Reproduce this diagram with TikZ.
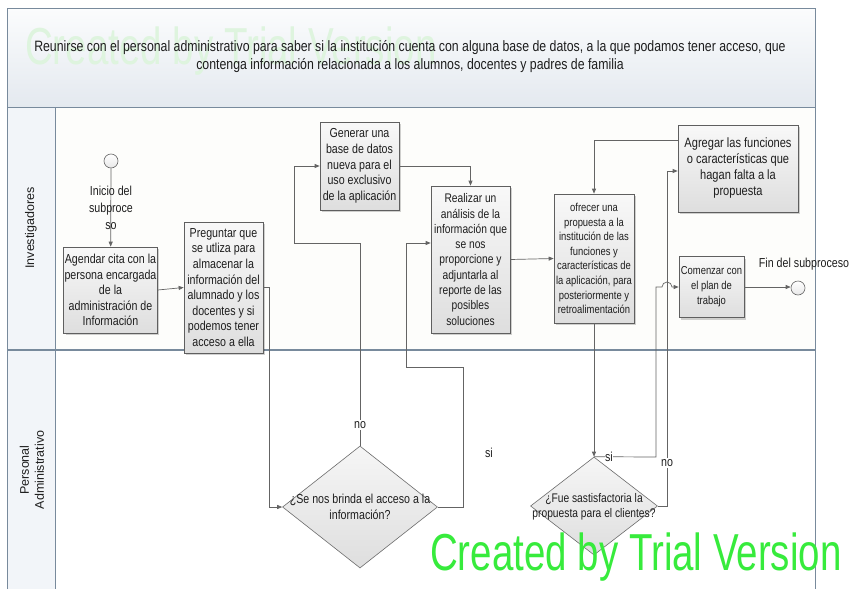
\documentclass[tikz,border=0pt]{standalone}
\usepackage{fontspec}
\setmainfont{Liberation Sans}
\newfontfamily\nar[FakeStretch=0.82]{Liberation Sans}
\usetikzlibrary{arrows.meta,shapes.geometric,shadows}
\definecolor{boxtop}{RGB}{248,248,248}
\definecolor{boxbot}{RGB}{222,222,222}
\definecolor{diatop}{RGB}{246,246,246}
\definecolor{diabot}{RGB}{222,222,222}
\definecolor{boxborder}{RGB}{95,95,95}
\definecolor{linec}{RGB}{100,100,100}
\definecolor{lanec}{RGB}{120,138,156}
\definecolor{hdrtop}{RGB}{251,252,253}
\definecolor{hdrbot}{RGB}{228,233,239}
\definecolor{colfill}{RGB}{242,245,249}
\definecolor{lanefill}{RGB}{253,253,251}
\definecolor{wmgreen}{RGB}{55,235,60}
\definecolor{wmpale}{RGB}{222,244,222}
\definecolor{txt}{RGB}{30,30,30}
\begin{document}
\begin{tikzpicture}[x=1pt,y=-1pt,
  txtfont/.style={font=\nar\fontsize{13}{15.6}\selectfont, text=txt},
  box/.style={draw=boxborder, line width=0.7pt, top color=boxtop, bottom color=boxbot,
    drop shadow={shadow xshift=2pt,shadow yshift=-2pt,fill=black,opacity=0.18},
    inner sep=1pt, align=center, txtfont},
  dia/.style={diamond, draw=gray!85!black, line width=0.6pt, top color=diatop, bottom color=diabot, inner sep=0pt},
  evt/.style={circle, draw=gray!80!black, line width=0.6pt, top color=white, bottom color=gray!18, minimum size=14pt, inner sep=0pt},
  conn/.style={draw=linec, line width=0.7pt, -{Triangle[length=5pt,width=4pt]}},
  lbl/.style={txtfont, inner sep=1pt},
  lanelbl/.style={font=\fontsize{12.5}{15}\selectfont, text=txt, rotate=90, align=center}
]
\useasboundingbox (0,0) rectangle (850,589);
\fill[white] (0,0) rectangle (850,589);
% header
\shade[top color=hdrtop, bottom color=hdrbot] (7,8) rectangle (815,107);
\draw[lanec, line width=0.8pt] (7,8) rectangle (815,107);
\node[anchor=base west, inner sep=0pt, text=wmpale] (wmh) at (25,64)
 {\scalebox{0.74}[1]{\fontsize{52}{52}\selectfont Created by Trial Version}};
\node[txtfont, font=\nar\fontsize{15}{18}\selectfont, align=center] (hdr) at (410,57)
 {Reunirse con el personal administrativo para saber si la institución cuenta con alguna base de datos, a la que podamos tener acceso, que\\contenga información relacionada a los alumnos, docentes y padres de familia};
% pool and lanes
\fill[lanefill] (55,107) rectangle (815,350);
\fill[colfill] (7,107) rectangle (55,589);
\draw[lanec, line width=0.8pt] (7,589) -- (7,107) -- (815,107) -- (815,589);
\draw[lanec, line width=0.8pt] (55,107) -- (55,589);
\draw[lanec, line width=1.4pt] (7,350) -- (815,350);
\node[lanelbl] (l1) at (31,228) {Investigadores};
\node[lanelbl] (l2) at (32,470) {Personal\\Administrativo};

% events
\node[evt] (start) at (111,161) {};
\node[evt] (endc) at (798,288) {};
\node[lbl] (endl) at (804,264) {Fin del subproceso};

% tasks
\node[box, minimum width=93pt, minimum height=86pt] (agendar) at (110.5,290)
 {Agendar cita con la\\persona encargada\\de la\\administración de\\Información};
\node[box, minimum width=79pt, minimum height=131pt] (preguntar) at (223.5,287.5)
 {Preguntar que\\se utliza para\\almacenar la\\información del\\alumnado y los\\docentes y si\\podemos tener\\acceso a ella};
\node[box, minimum width=79pt, minimum height=88pt] (generar) at (359.5,166)
 {Generar una\\base de datos\\nueva para el\\uso exclusivo\\de la aplicación};
\node[box, minimum width=79pt, minimum height=147pt, font=\nar\fontsize{12.5}{15.3}\selectfont] (realizar) at (470.5,259.5)
 {Realizar un\\análisis de la\\información que\\se nos\\proporcione y\\adjuntarla al\\reporte de las\\posibles\\soluciones};
\node[box, minimum width=80pt, minimum height=129pt, font=\nar\fontsize{11.5}{14.6}\selectfont] (ofrecer) at (594,258.5)
 {ofrecer una\\propuesta a la\\institución de las\\funciones y\\características de\\la aplicación, para\\posteriormente y\\retroalimentación};
\node[box, minimum width=120pt, minimum height=87pt, font=\nar\fontsize{13.5}{16}\selectfont] (agregar) at (738,168.5)
 {Agregar las funciones\\o características que\\hagan falta a la\\propuesta};
\node[box, minimum width=65pt, minimum height=61pt, font=\nar\fontsize{11.5}{15}\selectfont] (comenzar) at (711.5,287)
 {Comenzar con\\el plan de\\trabajo};

% gateways
\node[dia, minimum width=155pt, minimum height=122pt] (d1) at (360,507) {};
\node[lbl, align=center] (d1t) at (360,507) {¿Se nos brinda el acceso a la\\información?};
\node[dia, minimum width=127pt, minimum height=98pt] (d2) at (594,506) {};
\node[lbl, align=center, font=\nar\fontsize{12.5}{15.5}\selectfont] (d2t) at (594,507) {¿Fue sastisfactoria la\\propuesta para el clientes?};

% connectors
\draw[conn] (start) -- (agendar);
\node[lbl, align=center, font=\nar\fontsize{13}{17}\selectfont] (startl) at (111,208) {Inicio del\\subproce\\so};
\draw[conn] (agendar.east) -- (preguntar.west);
\draw[conn] (preguntar.east) -- ++(6,0) |- (d1.west);
\draw[conn] (d1.north) -- (360,243) -| (294,166) -- (generar.west);
\node[lbl, fill=white] (nol1) at (360,425) {no};
\draw[conn] (d1.east) -- (463,507) -- (463,367) -- (406,367) -- (406,243) -- (realizar.west |- 0,243);
\node[lbl] (sil1) at (489,453) {si};
\draw[conn] (generar.east) -| (realizar.north);
\draw[conn] (realizar.east) -- (ofrecer.west);
\draw[conn] ([yshift=28.5pt]agregar.west) -| (ofrecer.north);
\draw[conn] (ofrecer.south) -- (d2.north);
\draw[conn] (d2.north) -- (656,457) -- (656,287) -- (662,287) arc[start angle=180, end angle=0, radius=5pt] -- (comenzar.west);
\node[lbl, fill=white, inner sep=0.5pt] (sil2) at (609,457) {si};
\draw[conn] (d2.east) -- (667,506) -- (667,171) -- (agregar.west |- 0,171);
\node[lbl, fill=white] (nol2) at (667,463) {no};
\draw[conn] (comenzar.east) -- (comenzar.east -| endc.west);

% watermark
\node[anchor=base west, inner sep=0pt, text=wmgreen] (wm) at (430,570)
 {\scalebox{0.74}[1]{\fontsize{52}{52}\selectfont Created by Trial Version}};
\end{tikzpicture}
\end{document}
